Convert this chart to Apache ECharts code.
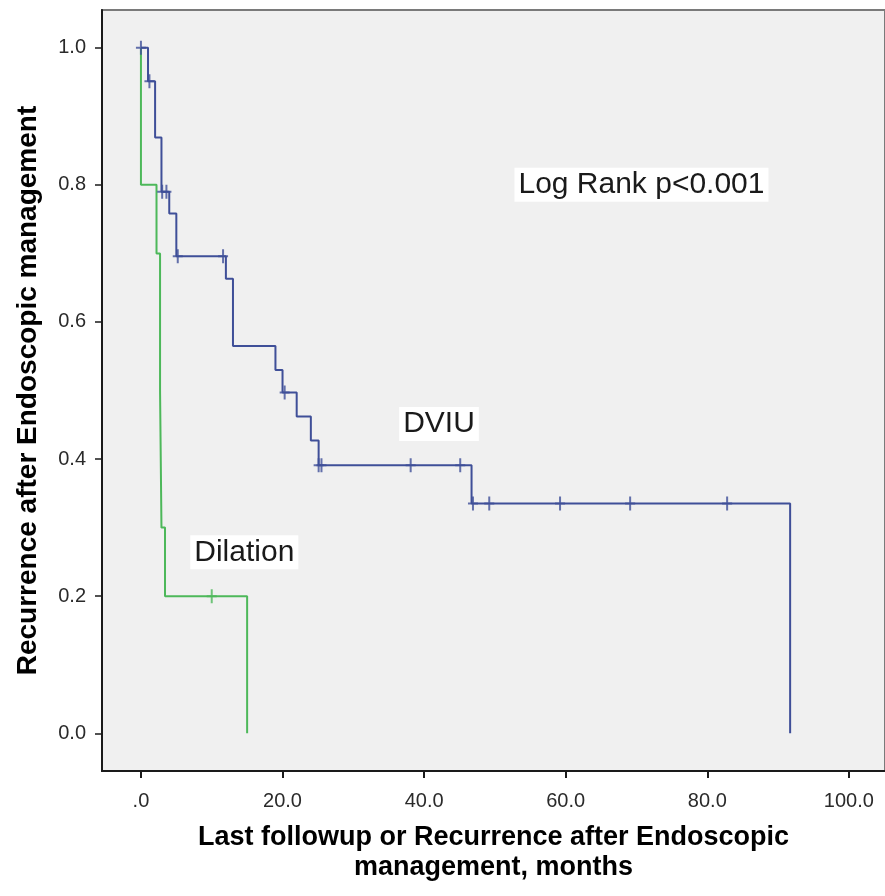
<!DOCTYPE html>
<html>
<head>
<meta charset="utf-8">
<script src="https://cdn.jsdelivr.net/npm/echarts@6/dist/echarts.min.js"></script>
<style>
html,body{margin:0;padding:0;background:#fff;}
#chart{width:885px;height:896px;}
</style>
</head>
<body>
<div id="chart"></div>
<script>
// Kaplan-Meier step data (time in months, cumulative proportion)
const dviuTimes = [0, 1.0, 2.0, 2.9, 4.0, 5.0, 12.0, 13.0, 19.0, 20.0, 22.0, 24.0, 25.1, 46.7, 91.7];
const dviuSurv  = [1.0, 0.951, 0.869, 0.790, 0.758, 0.696, 0.663, 0.565, 0.530, 0.497, 0.462, 0.427, 0.391, 0.335, 0.0];
const dviuCensorTimes = [0.0, 1.2, 3.0, 3.6, 5.2, 11.6, 20.3, 25.1, 25.5, 38.1, 45.1, 46.9, 49.2, 59.2, 69.1, 82.8];
const dviuCensorSurv  = [1.0, 0.951, 0.790, 0.790, 0.696, 0.696, 0.497, 0.391, 0.391, 0.391, 0.391, 0.335, 0.335, 0.335, 0.335, 0.335];

const dilTimes = [0, 0, 2.2, 2.7, 2.9, 3.4, 15.0];
const dilSurv  = [1.0, 0.8, 0.7, 0.5, 0.3, 0.2, 0.0];
const dilCensorTimes = [10.0];
const dilCensorSurv  = [0.2];

const xTicks = [0, 20, 40, 60, 80, 100];
const xTickLabels = ['.0', '20.0', '40.0', '60.0', '80.0', '100.0'];
const yTicks = [0, 0.2, 0.4, 0.6, 0.8, 1.0];
const yTickLabels = ['0.0', '0.2', '0.4', '0.6', '0.8', '1.0'];

const annotations = [
  {text: 'Log Rank p<0.001', x: 70.7, y: 0.80},
  {text: 'DVIU', x: 42.1, y: 0.451},
  {text: 'Dilation', x: 14.6, y: 0.264}
];

const BLUE = '#3f4f98';
const GREEN = '#4db85a';
const PLUS = 'path://M4,0 H6 V6 H10 V8 H6 V14 H4 V8 H0 V6 H4 Z';
const FONT = 'Arial, "Liberation Sans", sans-serif';

const zip = (a, b) => a.map((v, i) => [v, b[i]]);

const chart = echarts.init(document.getElementById('chart'));
const option = {
  animation: false,
  backgroundColor: '#ffffff',
  grid: {
    left: 102, right: -2, top: 10, bottom: 125,
    show: true, backgroundColor: '#f0f0f0', borderColor: '#7a7a7a', borderWidth: 2
  },
  xAxis: {
    type: 'value', min: -5.5, max: 105.1,
    splitLine: {show: false},
    axisLine: {show: true, onZero: false, lineStyle: {color: '#1a1a1a', width: 2}},
    axisTick: {show: true, customValues: xTicks, length: 7, lineStyle: {color: '#1a1a1a', width: 2}},
    axisLabel: {
      customValues: xTicks, margin: 20, fontSize: 20, color: '#2a2a2a', fontFamily: FONT,
      formatter: v => xTickLabels[xTicks.findIndex(t => Math.abs(t - v) < 1e-6)]
    },
    name: 'Last followup or Recurrence after Endoscopic\nmanagement, months',
    nameLocation: 'middle', nameGap: 52,
    nameTextStyle: {fontSize: 27, fontWeight: 'bold', color: '#000', fontFamily: FONT, lineHeight: 30}
  },
  yAxis: {
    type: 'value', min: -0.055, max: 1.055,
    splitLine: {show: false},
    axisLine: {show: true, onZero: false, lineStyle: {color: '#1a1a1a', width: 2}},
    axisTick: {show: true, customValues: yTicks, length: 7, lineStyle: {color: '#1a1a1a', width: 1.5}},
    axisLabel: {
      customValues: yTicks, margin: 16, fontSize: 20, color: '#2a2a2a', fontFamily: FONT,
      formatter: v => yTickLabels[yTicks.findIndex(t => Math.abs(t - v) < 1e-6)]
    },
    name: 'Recurrence after Endoscopic management',
    nameLocation: 'middle', nameGap: 60, nameRotate: 90,
    nameTextStyle: {fontSize: 28, fontWeight: 'bold', color: '#000', fontFamily: FONT}
  },
  series: [
    {
      name: 'Dilation', type: 'line', step: 'end', symbol: 'none',
      data: zip(dilTimes, dilSurv),
      lineStyle: {color: GREEN, width: 2}, z: 2
    },
    {
      name: 'Dilation censored', type: 'scatter', symbol: PLUS, symbolSize: [10, 14],
      data: zip(dilCensorTimes, dilCensorSurv),
      itemStyle: {color: GREEN}, z: 3
    },
    {
      name: 'DVIU', type: 'line', step: 'end', symbol: 'none',
      data: zip(dviuTimes, dviuSurv),
      lineStyle: {color: BLUE, width: 2}, z: 4
    },
    {
      name: 'DVIU censored', type: 'scatter', symbol: PLUS, symbolSize: [10, 14],
      data: zip(dviuCensorTimes, dviuCensorSurv),
      itemStyle: {color: BLUE}, z: 5
    }
  ]
};
chart.setOption(option);

const graphics = annotations.map(a => {
  const p = chart.convertToPixel({gridIndex: 0}, [a.x, a.y]);
  return {
    type: 'text', x: p[0], y: p[1], z: 100,
    style: {
      text: a.text, fontSize: 30, fontFamily: FONT, fill: '#1a1a1a',
      align: 'center', verticalAlign: 'middle',
      backgroundColor: '#ffffff', padding: [3, 4, 1, 4]
    }
  };
});
chart.setOption({graphic: graphics});
</script>
</body>
</html>
